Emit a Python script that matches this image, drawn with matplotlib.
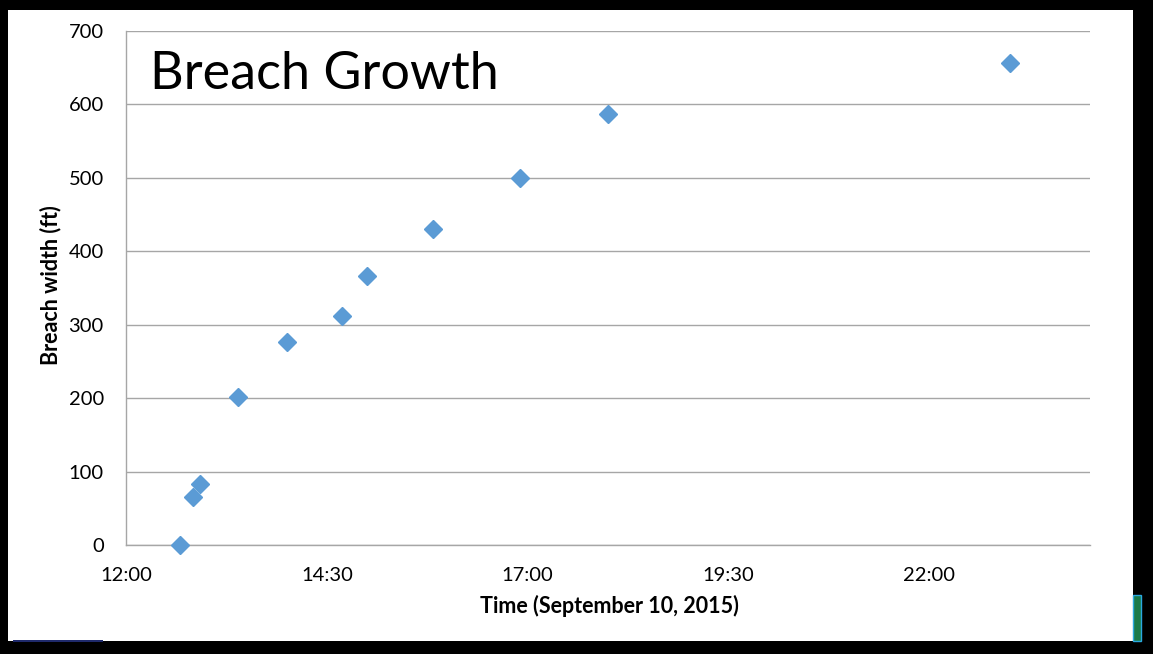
import matplotlib.pyplot as plt
import matplotlib.patches as mpatches
from matplotlib.ticker import FixedLocator, FuncFormatter
import pandas as pd

# breach width observations, September 10, 2015
times = ['12:40', '12:50', '12:55', '13:24', '14:00', '14:41',
         '15:00', '15:49', '16:54', '18:00', '23:00']
widths = [0, 65, 83, 202, 276, 312, 366, 430, 500, 587, 657]

x_ticks = ['12:00', '14:30', '17:00', '19:30', '22:00']
y_ticks = [0, 100, 200, 300, 400, 500, 600, 700]


def to_hours(t):
    ts = pd.Timedelta(t + ':00')
    return ts.total_seconds() / 3600


def fmt_hour(v, pos):
    h = int(v)
    m = int(round((v - h) * 60))
    return f'{h}:{m:02d}'


hours = [to_hours(t) for t in times]

plt.rcParams['font.family'] = ['Lato', 'DejaVu Sans']

fig = plt.figure(figsize=(11.53, 6.54), dpi=100, facecolor='black')
W, H = 1153, 654

# white slide area on the black frame
fig.patches.append(mpatches.Rectangle((8 / W, 1 - 641 / H), (1133 - 8) / W, (641 - 10) / H,
                                      transform=fig.transFigure, facecolor='white',
                                      edgecolor='none', zorder=-2))
fig.patches.append(mpatches.Rectangle((13 / W, 1 - 642 / H), 90 / W, 2 / H,
                                      transform=fig.transFigure, facecolor='#1f2a6b',
                                      edgecolor='none', zorder=-1))
fig.patches.append(mpatches.Rectangle((1133 / W, 1 - 641 / H), 8 / W, 46 / H,
                                      transform=fig.transFigure, facecolor='#1a7a4a',
                                      edgecolor='#2aa8e0', lw=1, zorder=-1))

ax = fig.add_axes([126 / W, 1 - 545 / H, (1090 - 126) / W, (545 - 31) / H])
ax.set_facecolor('white')

ax.plot(hours, widths, ls='', marker='D', markersize=9, color='#5B9BD5',
        markeredgecolor='#5B9BD5', clip_on=False, zorder=3)

ax.set_xlim(12, 24)
ax.set_ylim(0, 700)
ax.xaxis.set_major_locator(FixedLocator([to_hours(t) for t in x_ticks]))
ax.xaxis.set_major_formatter(FuncFormatter(fmt_hour))
ax.set_yticks(y_ticks)

ax.grid(axis='y', color='#A6A6A6', lw=1)
ax.set_axisbelow(True)
for s in ['top', 'right']:
    ax.spines[s].set_visible(False)
for s in ['left', 'bottom']:
    ax.spines[s].set_color('#A6A6A6')
    ax.spines[s].set_linewidth(1)
ax.tick_params(length=0, labelsize=14.5, colors='black')
ax.tick_params(axis='y', pad=16)
ax.tick_params(axis='x', pad=15.5)

ax.set_xlabel('Time (September 10, 2015)', fontsize=15.5, fontweight='bold', va='center')
ax.set_ylabel('Breach width (ft)', fontsize=15.5, fontweight='bold', va='center')
ax.xaxis.set_label_coords(0.501, -0.119)
ax.yaxis.set_label_coords(-0.078, 0.505)

ax.text(0.025, 0.887, 'Breach Growth', transform=ax.transAxes, fontsize=37.5,
        va='baseline', ha='left', color='black')

plt.savefig('out.png', dpi=100, facecolor='black')
